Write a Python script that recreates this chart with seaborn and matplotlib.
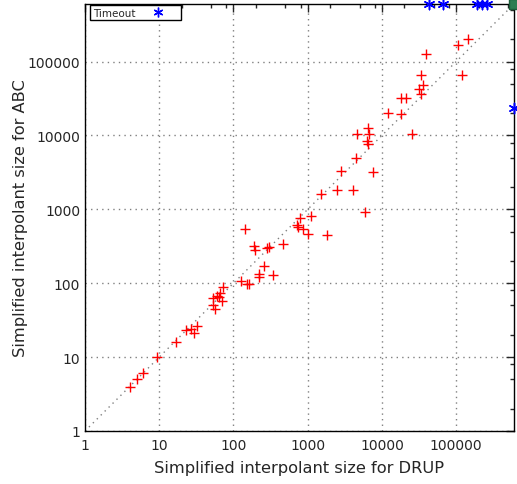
import numpy as np
import pandas as pd
import seaborn as sns
import matplotlib.pyplot as plt
from matplotlib.lines import Line2D
from matplotlib.ticker import LogLocator, FuncFormatter, NullFormatter

# solved by both
drup = [4, 5, 6, 9.3, 17,
        23, 27, 32, 29,
        72, 66, 60, 53, 64, 70, 53, 56,
        127, 152, 160, 143, 190, 195, 284, 305, 258, 221, 221, 342, 470,
        720, 730, 790, 870, 1000, 1100, 1800,
        1500, 2500, 4100, 2800, 4400, 7600, 5900,
        4600, 6700, 6500, 6300, 6500, 12000, 18000, 18000, 21000, 25000,
        34000, 32000, 36000, 34000, 39000, 106000, 145000, 120000]
abc = [4, 5, 6, 10, 16,
       23, 24, 26, 21,
       90, 74, 67, 63, 65, 58, 51, 45,
       107, 98, 98, 540, 320, 281, 300, 310, 170, 133, 121, 130, 340,
       610, 575, 760, 540, 460, 810, 450,
       1600, 1850, 1800, 3300, 4900, 3200, 920,
       10500, 10400, 12500, 8400, 7700, 20000, 19500, 32000, 32000, 10500,
       36000, 42000, 48000, 66000, 126000, 167000, 200000, 65000]

TIMEOUT = 6e5
# ABC timed out
abc_to_drup = [43300, 66800, 192000, 224000, 262000]
# DRUP timed out
drup_to_abc = [23500]

df = pd.DataFrame({"drup": drup, "abc": abc})
to = pd.DataFrame({
    "drup": abc_to_drup + [TIMEOUT] * len(drup_to_abc),
    "abc": [TIMEOUT] * len(abc_to_drup) + drup_to_abc,
})

sns.set_style("white")
plt.rcParams["font.family"] = ["DejaVu Sans"]

fig = plt.figure(figsize=(5.17, 4.85), dpi=100)
ax = fig.add_axes([85 / 517, 53 / 485, 429 / 517, 427 / 485])

ax.set_xscale("log")
ax.set_yscale("log")
ax.set_xlim(1, TIMEOUT)
ax.set_ylim(1, TIMEOUT)

ax.plot([1, TIMEOUT], [1, TIMEOUT], ls=(0, (1, 3)), color="gray", lw=1, zorder=1)

star = (6, 2, 0)
sns.scatterplot(data=df, x="drup", y="abc", marker="+", color="red",
                s=50, linewidth=1, ax=ax, zorder=3, legend=False)
sns.scatterplot(data=to, x="drup", y="abc", marker=star, color="blue",
                s=55, linewidth=1.1, ax=ax, zorder=3, legend=False, clip_on=False)
# timed out for both
ax.plot([TIMEOUT], [TIMEOUT], marker="s", ls="none", markersize=7,
        markerfacecolor="#2e7d52", markeredgecolor="#1d5c3a", markeredgewidth=1,
        zorder=4, clip_on=False)

ax.grid(True, which="major", ls=(0, (1, 3)), color="gray", lw=1)

fmt = FuncFormatter(lambda v, p: f"{int(round(v))}")
for axis in (ax.xaxis, ax.yaxis):
    axis.set_major_locator(LogLocator(base=10, numticks=10))
    axis.set_minor_locator(LogLocator(base=10, subs=[2, 5, 8], numticks=20))
    axis.set_major_formatter(fmt)
    axis.set_minor_formatter(NullFormatter())

ax.tick_params(which="both", direction="in", top=True, right=True, labelsize=10)
ax.tick_params(which="major", length=6, width=1)
ax.tick_params(which="minor", length=3, width=1)
ax.tick_params(axis="x", pad=5)
for s in ax.spines.values():
    s.set_color("black")
    s.set_linewidth(1)

ax.set_xlabel("Simplified interpolant size for DRUP", fontsize=11.7, labelpad=6)
ax.set_ylabel("Simplified interpolant size for ABC", fontsize=11.7, labelpad=0)

handle = Line2D([], [], marker=star, color="blue", ls="none", markersize=7, label="Timeout")
ax.legend(handles=[handle], loc="upper left", bbox_to_anchor=(5 / 429, 1 - 1 / 427),
          borderaxespad=0, markerfirst=False, fancybox=False,
          edgecolor="black", framealpha=1, fontsize=7.5,
          borderpad=0.25, handletextpad=0.2, handlelength=4)

fig.savefig("out.png", dpi=100)
